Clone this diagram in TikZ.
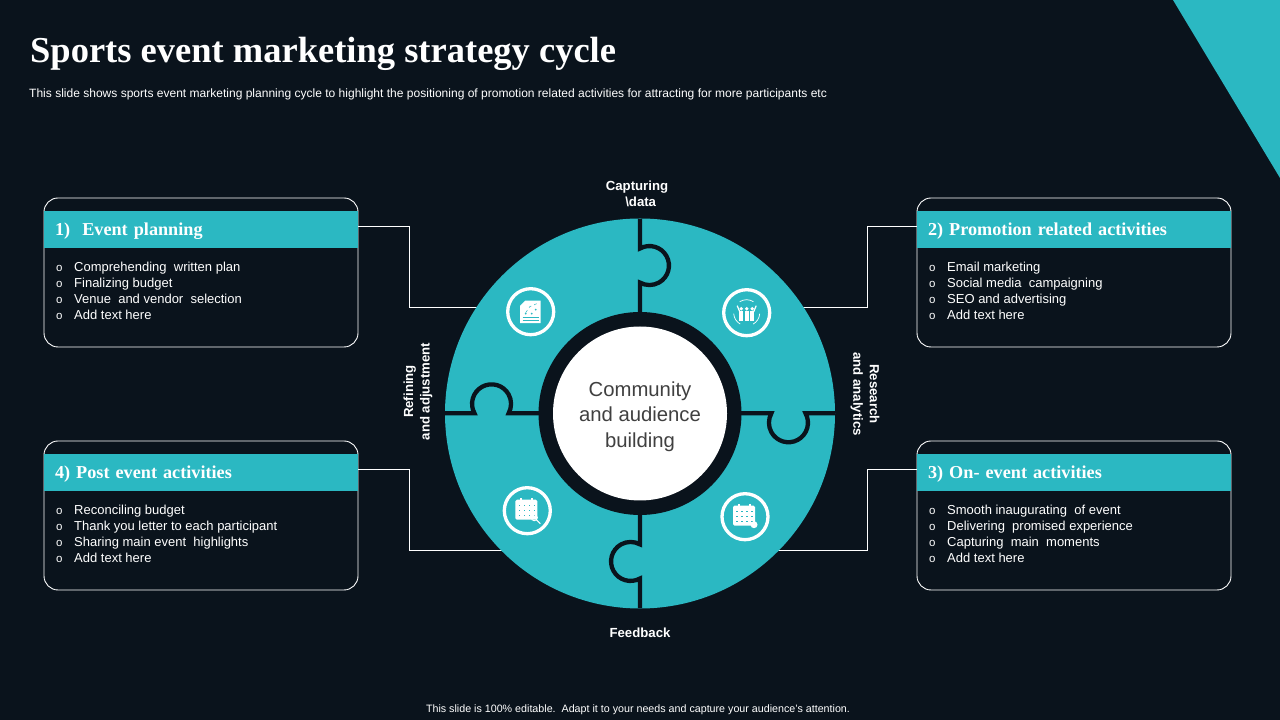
\documentclass[tikz,border=0pt]{standalone}
\usepackage{fontspec}
\setmainfont{Liberation Sans}
\newfontfamily\headfont{Liberation Serif}
\usepackage{tikz}
\usetikzlibrary{positioning}
\definecolor{slidebg}{HTML}{0A131C}
\definecolor{puzzle}{HTML}{2BB8C2}
\definecolor{midtext}{HTML}{404040}
\newcommand{\Bul}[1]{\makebox[18pt][l]{\fontsize{11.5}{16}\selectfont o}#1}
\tikzset{
  cardbox/.style={draw=white, line width=0.9pt, rounded corners=14pt, minimum width=314pt, minimum height=149pt, outer sep=0pt},
  headbar/.style={fill=puzzle, text=white, minimum width=314pt, minimum height=37pt, outer sep=0pt, inner xsep=11pt, inner ysep=0pt, text width=292pt, text height=16pt, text depth=4pt, align=left, font=\headfont\fontsize{18.2}{20}\selectfont\bfseries},
  listtext/.style={text=white, inner sep=0pt, anchor=north west, align=left, font=\fontsize{13}{16}\selectfont},
  looptext/.style={text=white, align=center, inner sep=0pt, font=\fontsize{13.2}{16.5}\selectfont\bfseries},
  wire/.style={draw=white, line width=0.9pt},
  seam/.style={draw=slidebg, line width=4.3pt},
  iconring/.style={circle, draw=white, line width=3.3pt, minimum size=46pt, inner sep=0pt}
}
\newcommand{\CalGlyph}{
  \fill[white, rounded corners=1.5pt] (-12,-9) rectangle (10,11);
  \fill[white] (-7,10) rectangle (-5,13);
  \fill[white] (4,10) rectangle (6,13);
  \foreach \a in {-8,-3,2,7}
    \foreach \b in {-5,0,5}
      \fill[puzzle] (\a-0.8,\b-0.8) rectangle (\a+0.8,\b+0.8);
}

\begin{document}
\begin{tikzpicture}[x=1pt, y=1pt]
  \useasboundingbox (0,0) rectangle (1280,720);
  \fill[slidebg] (0,0) rectangle (1280,720);
  \fill[puzzle] (1173,720) -- (1280,720) -- (1280,542) -- cycle;

  % title
  \node[text=white, anchor=west, inner sep=0pt, font=\headfont\fontsize{36.5}{40}\selectfont\bfseries] (title) at (30,666) {Sports event marketing strategy cycle};
  \node[text=white, anchor=west, inner sep=0pt, font=\fontsize{12.03}{14}\selectfont] (subtitle) at (29,626) {This slide shows sports event marketing planning cycle to highlight the positioning of promotion related activities for attracting for more participants etc};
  \node[text=white, inner sep=0pt, font=\fontsize{10.7}{12}\selectfont] (footer) at (638,10.5) {This slide is 100\% editable.\ \ Adapt it to your needs and capture your audience's attention.};

  % cards
  \node[cardbox] (card1) at (201,447.5) {};
  \node[headbar] (head1) at (201,490.5) {1)\ \ Event planning};
  \node[listtext] (list1) at (56,458) {\Bul{Comprehending\ \ written plan}\\\Bul{Finalizing budget}\\\Bul{Venue\ \ and vendor\ \ selection}\\\Bul{Add text here}};

  \node[cardbox] (card2) at (1074,447.5) {};
  \node[headbar] (head2) at (1074,490.5) {2) Promotion related activities};
  \node[listtext] (list2) at (929,458) {\Bul{Email marketing}\\\Bul{Social media\ \ campaigning}\\\Bul{SEO and advertising}\\\Bul{Add text here}};

  \node[cardbox] (card3) at (1074,204.5) {};
  \node[headbar] (head3) at (1074,247.5) {3) On- event activities};
  \node[listtext] (list3) at (929,215) {\Bul{Smooth inaugurating\ \ of event}\\\Bul{Delivering\ \ promised experience}\\\Bul{Capturing\ \ main\ \ moments}\\\Bul{Add text here}};

  \node[cardbox] (card4) at (201,204.5) {};
  \node[headbar] (head4) at (201,247.5) {4) Post event activities};
  \node[listtext] (list4) at (56,215) {\Bul{Reconciling budget}\\\Bul{Thank you letter to each participant}\\\Bul{Sharing main event\ \ highlights}\\\Bul{Add text here}};

  % wires
  \coordinate (bend1) at (409,413);
  \coordinate (tip1) at (479,413);
  \coordinate (bend2) at (867,413);
  \coordinate (tip2) at (802,413);
  \coordinate (bend3) at (867,170);
  \coordinate (tip3) at (777,170);
  \coordinate (bend4) at (409,170);
  \coordinate (tip4) at (503,170);
  \draw[wire] ([yshift=3.5pt]head1.east) -| (bend1) -- (tip1); % 1->disc
  \draw[wire] ([yshift=3.5pt]head2.west) -| (bend2) -- (tip2); % 2->disc
  \draw[wire] ([yshift=3.5pt]head3.west) -| (bend3) -- (tip3); % 3->disc
  \draw[wire] ([yshift=3.5pt]head4.east) -| (bend4) -- (tip4); % 4->disc

  % disc
  \node[circle, fill=puzzle, minimum size=390pt, inner sep=0pt] (disc) at (640,306.5) {};
  \draw[seam] (640,501) -- (640,471.5) arc[start angle=119, end angle=-119, radius=19.5] -- (640,400); % top
  \draw[seam] (640,112) -- (640,141.5) arc[start angle=299, end angle=61, radius=19.5] -- (640,210); % bottom
  \draw[seam] (445,306.7) -- (474.5,306.7) arc[start angle=209, end angle=-29, radius=19.5] -- (545,306.7); % left
  \draw[seam] (835,306.7) -- (805.5,306.7) arc[start angle=29, end angle=-209, radius=19.5] -- (735,306.7); % right
  \node[circle, fill=slidebg, minimum size=203pt, inner sep=0pt] (ring) at (disc.center) {};
  \node[circle, fill=white, minimum size=174pt, inner sep=0pt] (hub) at (disc.center) {};
  \node[text=midtext, inner sep=0pt, align=center, font=\fontsize{20.3}{25.5}\selectfont] (hubtext) at (640,303.5) {Community\\and audience\\building};

  % labels round the disc
  \node[looptext] (capture) at (637,526) {Capturing\\\ \ \textbackslash data};
  \node[looptext] (feedback) at (640,87) {Feedback};
  \node[looptext, rotate=90] (refine) at (418,328.5) {Refining\\and adjustment};
  \node[looptext, rotate=-90] (research) at (865,326) {Research\\and analytics};

  % icons
  \node[iconring] (icon1) at (530.7,408.3) {};
  \node[iconring] (icon2) at (746.7,407.3) {};
  \node[iconring] (icon3) at (745,203.3) {};
  \node[iconring] (icon4) at (527.3,209.3) {};

  \begin{scope}[shift={(icon1.center)}]
    \fill[white] (-10.5,-11.5) -- (10,-11.5) -- (10,11) -- (-5.5,11) -- (-10.5,6) -- cycle;
    \draw[puzzle, line width=0.6pt] (-8,-6) -- (8,-6) (-8,-8.5) -- (8,-8.5);
    \draw[puzzle, line width=0.5pt, dashed] (-5,-1) -- (-1,5) -- (6,8);
    \fill[puzzle] (-5,-2) circle (1) (5,2) circle (1) (1,-2) circle (1);
  \end{scope}

  \begin{scope}[shift={(icon2.center)}]
    \foreach \a in {-5.5,0,5.5} {
      \fill[white] (\a,4) circle (1.9);
      \fill[white] (\a-2.2,-8) rectangle (\a+2.2,2);
    }
    \draw[white, line width=1.2pt] (-7,1) -- (-9.5,7) (7,1) -- (9.5,7);
    \draw[white, line width=0.7pt] (-7,11) arc[start angle=122, end angle=58, radius=13];
    \draw[white, line width=0.7pt] (-13,-1) arc[start angle=184, end angle=240, radius=13];
    \draw[white, line width=0.7pt] (13,-1) arc[start angle=-4, end angle=-60, radius=13];
  \end{scope}

  \begin{scope}[shift={(icon3.center)}]
    \CalGlyph
    \fill[white] (9,-8) circle (3.5);
  \end{scope}

  \begin{scope}[shift={(icon4.center)}]
    \CalGlyph
    \draw[white, line width=1pt] (7,-7) circle (3);
    \draw[white, line width=1.2pt] (9,-9) -- (13,-13);
  \end{scope}
\end{tikzpicture}
\end{document}
